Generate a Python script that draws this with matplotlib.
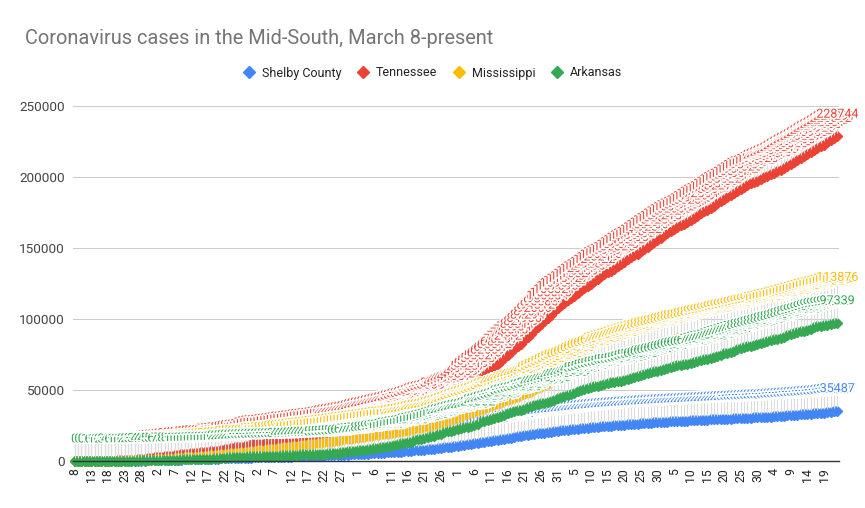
import matplotlib
matplotlib.use("Agg")
import matplotlib.pyplot as plt
import matplotlib.patheffects as pe
from matplotlib.lines import Line2D
from matplotlib.transforms import offset_copy
import numpy as np
import pandas as pd

plt.rcParams['font.family'] = ['Roboto', 'DejaVu Sans']

# one row per sheet entry, March 8 - October 23
# (the sheet has no Aug 31 row and lists Oct 3 twice)
dates = (list(pd.date_range("2020-03-08", "2020-08-30", freq="D"))
         + list(pd.date_range("2020-09-01", "2020-10-03", freq="D"))
         + [pd.Timestamp("2020-10-03")]
         + list(pd.date_range("2020-10-04", "2020-10-23", freq="D")))

shelby = [
    1, 1, 1, 1, 1, 2, 3, 4, 8, 11, 20, 32, 44, 58, 80, 93, 108, 132, 170, 211, 253, 298, 358, 424,
    507, 588, 652, 732, 800, 850, 918, 989, 1048, 1111, 1188, 1250, 1297, 1348, 1413, 1471, 1526, 1591, 1657, 1718,
    1793, 1866, 1926, 1998, 2077, 2161, 2237, 2307, 2381, 2435,
    2495, 2565, 2626, 2691, 2748, 2799, 2860, 2923, 2986, 3056, 3113, 3168, 3235, 3301, 3367, 3428, 3492, 3548, 3612,
    3678, 3749, 3827, 3914, 4001, 4086, 4171, 4265, 4363, 4467, 4578, 4687,
    4802, 4925, 5045, 5168, 5297, 5421, 5566, 5705, 5847, 6001, 6154, 6311, 6472, 6654, 6833, 7017, 7219, 7426, 7648,
    7864, 8085, 8300, 8522, 8781, 9040, 9302, 9566, 9862, 10147, 10452,
    10760, 11075, 11391, 11711, 12032, 12349, 12698, 13053, 13420, 13814, 14205, 14589, 14970, 15348, 15742, 16130,
    16516, 16917, 17310, 17685, 18052, 18412, 18760, 19101, 19432, 19751, 20062, 20367, 20661, 20948, 21225,
    21492, 21748, 21991, 22240, 22489, 22744, 22991, 23234, 23468, 23695, 23924, 24140, 24357, 24564, 24765, 24954,
    25137, 25327, 25514, 25700, 25881, 26056, 26221, 26384, 26542, 26700, 26856, 27008, 27156, 27299, 27438,
    27570, 27703, 27832, 27958, 28079, 28191, 28298, 28410, 28529, 28650, 28775, 28897, 29013, 29119, 29228, 29344,
    29466, 29587, 29702, 29810, 29913, 30028, 30150, 30274, 30398, 30515, 30620, 30732, 30860, 30984,
    31117, 31245, 31050, 31498, 31641, 31792, 31950, 32112, 32280, 32453, 32620, 32781, 32947, 33124, 33306, 33490,
    33671, 33848, 34025, 34370, 34735, 35100, 35487,
]

tennessee = [
    3, 4, 7, 9, 18, 26, 32, 39, 52, 73, 98, 154, 228, 371, 505, 615, 667, 784, 957, 1097, 1373, 1537, 1834, 2239,
    2683, 2845, 3067, 3321, 3633, 3802, 4138, 4362, 4634, 4862, 5114, 5308, 5610, 5827, 6079, 6263, 6589, 7070, 7238,
    7394, 7842, 8266, 8726, 9189, 9667, 9918, 10052, 10366, 10735, 11891,
    12661, 13177, 13502, 13571, 13690, 14096, 14441, 14768, 15007, 15544, 15908, 16111, 16370, 16699, 16970, 17388,
    17788, 18011, 18378, 18532, 18961, 19394, 19789, 20145, 20607, 20965, 21285, 21763, 22085, 22597, 23006,
    23554, 24375, 24819, 25435, 25775, 26381, 27011, 27575, 28144, 28520, 29118, 29672, 30347, 30935, 31830, 32143,
    32798, 33678, 34446, 35547, 36303, 36868, 37446, 38034, 39444, 40172, 41431, 42297, 43104, 44087,
    45812, 47609, 49431, 51287, 53019, 54914, 56733, 58621, 60718, 62609, 64587, 66512, 68340, 70297, 72412, 74689,
    76813, 78934, 80811, 82719, 84906, 87294, 89617, 92006, 94312, 96588, 98711, 100834, 103018, 105321, 107693,
    109815, 111592, 113127, 114731, 116521, 118309, 120114, 121836, 123284, 124703, 126422, 128219, 130016, 131797,
    133004, 134018, 135326, 137015, 138724, 140312, 141905, 143514, 144832, 146017, 147622, 149231, 150906, 152611,
    154238, 155819, 157218,
    159014, 160527, 162003, 163512, 164918, 166105, 167124, 168231, 169716, 171209, 172804, 174411, 175836, 176912,
    178227, 179814, 181409, 183022, 184613, 185921, 187034, 188417, 190012, 191526, 193108, 194619, 195807, 196312,
    197523, 198914,
    200016, 200937, 201918, 203011, 204028, 205217, 206614, 208023, 209418, 210806, 212014, 213227, 214519, 215903,
    217412, 218925, 220417, 221608, 222831, 224316, 225802, 227291, 228744,
]

mississippi = [
    0, 0, 0, 1, 1, 2, 6, 10, 12, 21, 34, 50, 80, 140, 207, 249, 320, 377, 485, 579, 663, 758, 847, 937,
    1073, 1177, 1358, 1455, 1638, 1738, 1915, 2003, 2260, 2469, 2642, 2781, 2942, 3087, 3360, 3624, 3793, 3974, 4274,
    4512, 4716, 4894, 5153, 5458, 5718, 5911, 6094, 6342, 6569, 6815,
    7212, 7441, 7550, 7877, 8207, 8424, 8686, 9090, 9501, 9674, 9908, 10090, 10483, 10801, 11123, 11432, 11704,
    11967, 12222, 12624, 12928, 13252, 13458, 13731, 14044, 14372, 14790, 15229, 15501, 15752, 16020,
    16380, 16720, 17090, 17300, 17768, 18109, 18483, 18795, 19091, 19348, 19516, 19799, 20152, 20641, 20987, 21402,
    21749, 22287, 22898, 23424, 23795, 24223, 24516, 25066, 25892, 26567, 27247, 27900, 28770, 29684,
    30431, 31287, 32214, 33012, 33619, 34327, 35046, 35811, 36704, 37806, 38912, 39634, 40322, 41118, 42013, 42934,
    43817, 44705, 45418, 46127, 46916, 47803, 48927, 50118, 51307, 52418, 53422, 54531, 55617, 56826, 58014,
    59123, 60112, 61034, 62018, 63107, 64329, 65414, 66527, 67341, 68019, 68923, 69817, 70732, 71609, 72514, 73226,
    73841, 74519, 75328, 76131, 76923, 77608, 78214, 78819, 79527, 80316, 81018, 81724, 82327, 82815, 83314,
    83917, 84523, 85214, 85906, 86512, 87018, 87423, 87841, 88419, 89013, 89627, 90118, 90631, 91024, 91517, 92113,
    92716, 93318, 93921, 94322, 94718, 95216, 95814, 96329, 96913, 97508, 97921, 98334, 98917, 99512,
    100118, 100724, 101319, 101927, 102431, 102918, 103527, 104116, 104823, 105517, 106214, 106811, 107426, 108032,
    108719, 109428, 110017, 110624, 111132, 111714, 112423, 113118, 113876,
]

arkansas = [
    0, 0, 0, 1, 6, 9, 12, 16, 22, 33, 46, 62, 96, 118, 165, 192, 219, 280, 335, 381, 409, 426, 473, 523,
    584, 643, 704, 743, 830, 875, 946, 1000, 1119, 1171, 1228, 1280, 1410, 1498, 1569, 1620, 1695, 1744, 1781, 1990,
    2227, 2276, 2465, 2741, 2829, 2941, 3017, 3111, 3192, 3255,
    3337, 3431, 3491, 3525, 3611, 3694, 3747, 3812, 3931, 4012, 4043, 4164, 4236, 4366, 4578, 4676, 4759, 4813, 4923,
    5003, 5112, 5248, 5458, 5612, 5775, 5922, 6180, 6538, 6777, 7013, 7253,
    7443, 7758, 8067, 8425, 8651, 9101, 9426, 9740, 10080, 10368, 10816, 11547, 11917, 12501, 12917, 13191, 13606,
    14631, 15142, 15561, 16083, 16678, 17375, 17914, 18740, 19310, 20257, 20777, 21197, 22075,
    22622, 23209, 23814, 24253, 24512, 25246, 26052, 27864, 28367, 28939, 29733, 30297, 31114, 31762, 32533, 33927,
    34655, 35246, 35850, 36259, 36868, 37981, 38623, 39447, 40181, 40758, 41189, 41759, 42511, 43173, 44597,
    45381, 45905, 46293, 47028, 48039, 49383, 50028, 50411, 51114, 51992, 52665, 53077, 53785, 54216, 54765, 55652,
    55893, 56199, 56574, 57114, 57803, 58475, 59231, 59664, 60378, 61171, 61985, 62655, 63081, 63643, 64175,
    64849, 65515, 66021, 66804, 67497, 67911, 68209, 68597, 69082, 69501, 70219, 70958, 71555, 72138, 72630, 73254,
    74082, 74955, 75723, 76331, 76981, 77794, 78554, 79313, 80022, 80757, 81242, 81867, 82550, 83180,
    83697, 84470, 85200, 85779, 86254, 86917, 87629, 88459, 89251, 89955, 90632, 91220, 91700, 92500, 93300, 94100,
    94800, 95300, 95700, 96100, 96500, 96900, 97339,
]

series_names = ["Shelby County", "Tennessee", "Mississippi", "Arkansas"]
series_colors = ["#4285F4", "#EA4335", "#FBBC04", "#34A853"]
series_values = [shelby, tennessee, mississippi, arkansas]
y_ticks = [0, 50000, 100000, 150000, 200000, 250000]

for vals in series_values:
    assert len(vals) == len(dates), len(vals)

W, H = 865, 508
fig = plt.figure(figsize=(W / 100, H / 100), dpi=100)
ax = fig.add_axes([73 / W, 1 - 461 / H, (839 - 73) / W, (461 - 106) / H])

x = np.arange(len(dates))

for s, (name, col, vals) in enumerate(zip(series_names, series_colors, series_values)):
    z = 3 + s * 3
    ax.plot(x, vals, color=col, lw=2, marker="D", ms=4.6, mec=col, zorder=z, clip_on=False)
    # annotation stems
    stem_tr = offset_copy(ax.transData, fig=fig, x=0, y=10.5, units="dots")
    ax.plot(x, vals, ls="none", marker="|", ms=9.5, mew=0.8, color="#dcdcdc",
            transform=stem_tr, zorder=z + 1, clip_on=False)
    for i, v in enumerate(vals):
        ax.annotate(str(v), (i, v), xytext=(0, 22), textcoords="offset pixels",
                    ha="center", va="center", fontsize=9, color=col, zorder=z + 2,
                    annotation_clip=False,
                    path_effects=[pe.withStroke(linewidth=2.2, foreground="white")])

ax.set_xlim(-0.5, len(dates) - 0.5)
ax.set_ylim(0, 250000)
ax.set_yticks(y_ticks)
ax.set_yticklabels([str(t) for t in y_ticks])
tick_pos = x[::5]
ax.set_xticks(tick_pos)
ax.set_xticklabels([str(dates[i].day) for i in tick_pos], rotation=90)
ax.tick_params(axis="x", length=0, pad=5, labelsize=8.8, labelcolor="#222222")
ax.tick_params(axis="y", length=0, pad=6, labelsize=9.7, labelcolor="#444444")
ax.grid(axis="y", color="#cccccc", lw=0.75, zorder=0)
ax.set_axisbelow(True)
for side in ["top", "right", "left"]:
    ax.spines[side].set_visible(False)
ax.spines["bottom"].set_color("#333333")
ax.spines["bottom"].set_linewidth(1)
ax.spines["bottom"].set_zorder(20)

fig.text(25 / W, 1 - 38 / H, "Coronavirus cases in the Mid-South, March 8-present",
         fontsize=14.4, color="#757575", va="center", ha="left")

handles = [Line2D([], [], ls="none", marker="D", ms=6.5, color=c) for c in series_colors]
fig.legend(handles, series_names, loc="center", bbox_to_anchor=(0.5, 1 - 73 / H), ncol=4,
           frameon=False, fontsize=9, handletextpad=0.55, columnspacing=1.2, handlelength=1,
           labelcolor="#222222")

fig.savefig("out.png", dpi=100, facecolor="white")
